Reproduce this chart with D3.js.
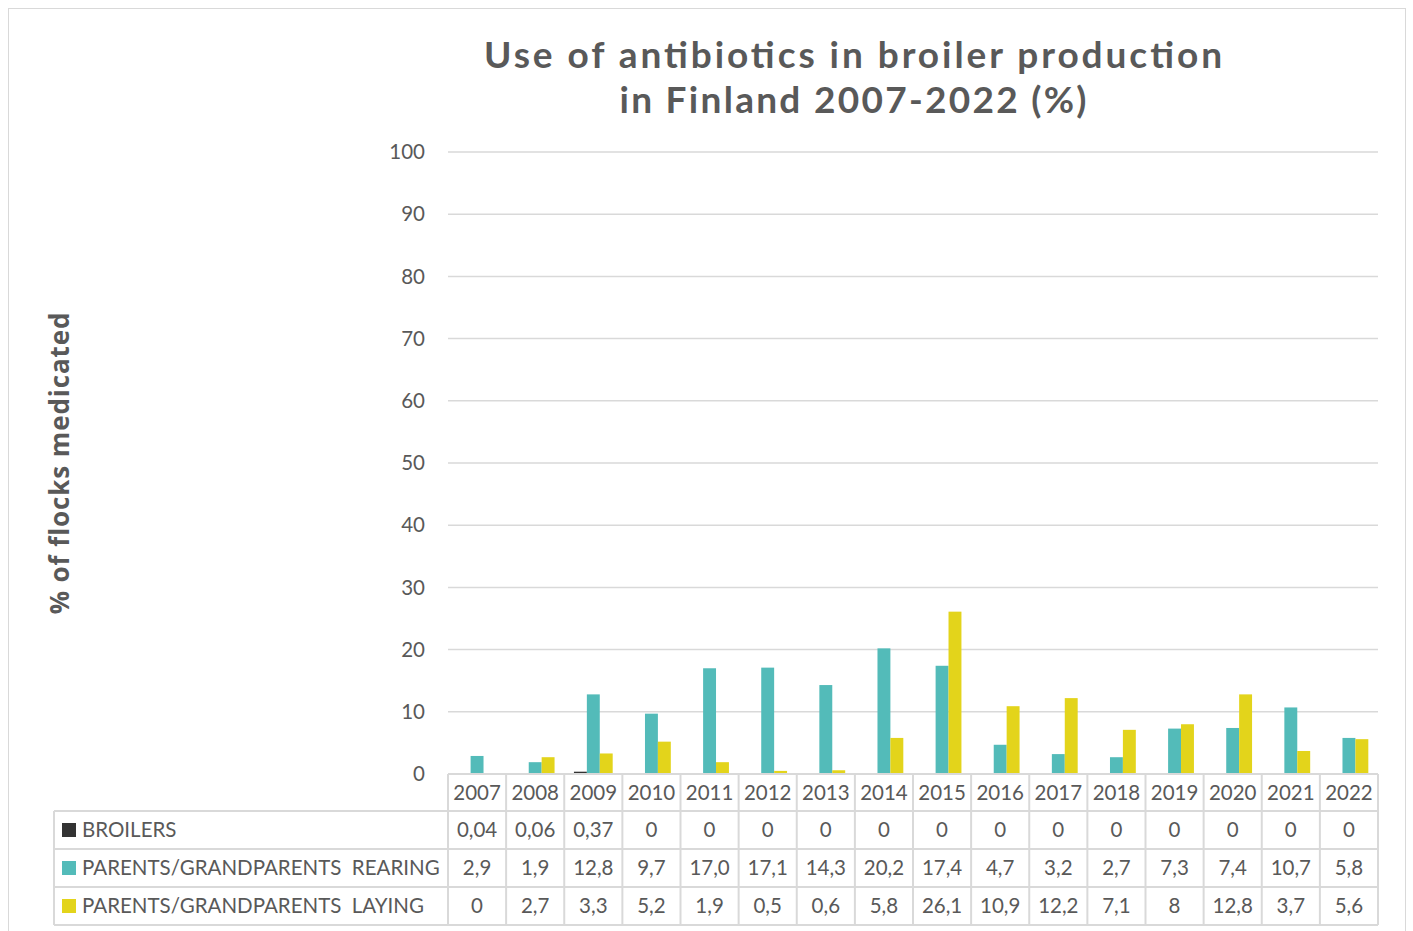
<!DOCTYPE html>
<html><head><meta charset="utf-8">
<script src="https://cdn.jsdelivr.net/npm/d3@7"></script>
<style>body{margin:0;background:#fff;} svg{display:block;}</style>
</head><body>
<script>
const years = ["2007","2008","2009","2010","2011","2012","2013","2014","2015","2016","2017","2018","2019","2020","2021","2022"];
const broilers = [0.04,0.06,0.37,0,0,0,0,0,0,0,0,0,0,0,0,0];
const broilersLabels = ["0,04","0,06","0,37","0","0","0","0","0","0","0","0","0","0","0","0","0"];
const rearing = [2.9,1.9,12.8,9.7,17.0,17.1,14.3,20.2,17.4,4.7,3.2,2.7,7.3,7.4,10.7,5.8];
const rearingLabels = ["2,9","1,9","12,8","9,7","17,0","17,1","14,3","20,2","17,4","4,7","3,2","2,7","7,3","7,4","10,7","5,8"];
const laying = [0,2.7,3.3,5.2,1.9,0.5,0.6,5.8,26.1,10.9,12.2,7.1,8,12.8,3.7,5.6];
const layingLabels = ["0","2,7","3,3","5,2","1,9","0,5","0,6","5,8","26,1","10,9","12,2","7,1","8","12,8","3,7","5,6"];
const seriesNames = ["BROILERS","PARENTS/GRANDPARENTS\u00a0\u00a0REARING","PARENTS/GRANDPARENTS\u00a0\u00a0LAYING"];
const titleLines = ["Use of antibiotics in broiler production","in Finland 2007-2022 (%)"];
const yTicks = [0,10,20,30,40,50,60,70,80,90,100];

(function(){
const W = 1413, H = 931;
const colors = ["#333333","#53BBB9","#E3D41B"];
const textCol = "#595959";
const gridCol = "#d9d9d9";

const svg = d3.select("body").append("svg").attr("width", W).attr("height", H);
svg.append("rect").attr("x",8.5).attr("y",8.5).attr("width",1397).attr("height",940).attr("fill","#fff").attr("stroke","#d9d9d9").attr("stroke-width",1);

const pL = 448, pR = 1378, pT = 152, pB = 774;
const x = d3.scaleBand().domain(years).range([pL, pR]).paddingInner(0).paddingOuter(0);
const y = d3.scaleLinear().domain([0,100]).range([pB, pT]);
const barW = x.bandwidth() / 4.5;
const sub = d3.scaleBand().domain([0,1,2]).range([0, barW*3]);

svg.append("g").selectAll("line").data(yTicks).join("line")
  .attr("x1", pL).attr("x2", pR)
  .attr("y1", d => y(d)).attr("y2", d => y(d))
  .attr("stroke", gridCol).attr("stroke-width", 1.5);

const yAxis = d3.axisLeft(y).tickValues(yTicks).tickSize(0).tickPadding(0);
const ga = svg.append("g").attr("transform", `translate(425,0)`).call(yAxis);
ga.select(".domain").remove();
ga.selectAll("text").attr("font-family","Lato, 'Open Sans', sans-serif").attr("font-size",20.5).attr("fill",textCol).attr("dy","0.33em");

const allSeries = [broilers, rearing, laying];
allSeries.forEach((vals, si) => {
  svg.append("g").selectAll("rect").data(vals).join("rect")
    .attr("x", (d,i) => x(years[i]) + (x.bandwidth() - barW*3)/2 + sub(si))
    .attr("y", d => y(d))
    .attr("width", barW)
    .attr("height", d => pB - y(d))
    .attr("fill", colors[si]);
});

const titleWidths = [738, 467];
svg.append("g").selectAll("text").data(titleLines).join("text")
  .attr("x", (d,i) => 853 - titleWidths[i]/2).attr("y", (d,i) => 68 + i*45)
  .attr("textLength", (d,i) => titleWidths[i]).attr("lengthAdjust","spacing")
  .attr("font-family","Lato, sans-serif").attr("font-weight",700).attr("font-size",37).attr("fill",textCol)
  .text(d => d);

svg.append("text").attr("transform","translate(69,463) rotate(-90)").attr("text-anchor","middle")
  .attr("font-family","'Open Sans', sans-serif").attr("font-weight",700).attr("font-size",26).attr("letter-spacing",0.9).attr("fill",textCol)
  .text("% of flocks medicated");

const tableLeft = 54;
const rowY = [774, 811, 849, 887, 925];
const tg = svg.append("g");
tg.append("line").attr("x1", pL).attr("x2", pR).attr("y1", rowY[0]).attr("y2", rowY[0]).attr("stroke",gridCol).attr("stroke-width",2);
[1,2,3,4].forEach(r => tg.append("line").attr("x1", tableLeft).attr("x2", pR).attr("y1", rowY[r]).attr("y2", rowY[r]).attr("stroke",gridCol).attr("stroke-width",2));
const colEdges = years.map(yv => x(yv)).concat([pR]);
colEdges.forEach(cx => tg.append("line").attr("x1", cx).attr("x2", cx).attr("y1", rowY[0]).attr("y2", rowY[4]).attr("stroke",gridCol).attr("stroke-width",2));
tg.append("line").attr("x1", tableLeft).attr("x2", tableLeft).attr("y1", rowY[1]).attr("y2", rowY[4]).attr("stroke",gridCol).attr("stroke-width",2);

const fontT = "Lato, 'Open Sans', sans-serif";
tg.selectAll("text.yr").data(years).join("text").attr("class","yr")
  .attr("x", d => x(d) + x.bandwidth()/2).attr("y", (rowY[0]+rowY[1])/2).attr("dy","0.35em")
  .attr("text-anchor","middle").attr("font-family",fontT).attr("font-size",20.5).attr("fill",textCol).text(d => d);

const labelSets = [broilersLabels, rearingLabels, layingLabels];
labelSets.forEach((labs, r) => {
  const cy = (rowY[r+1] + rowY[r+2]) / 2;
  tg.append("g").selectAll("text").data(labs).join("text")
    .attr("x", (d,i) => x(years[i]) + x.bandwidth()/2).attr("y", cy).attr("dy","0.35em")
    .attr("text-anchor","middle").attr("font-family",fontT).attr("font-size",20.5).attr("fill",textCol).text(d => d);
  tg.append("rect").attr("x", 62).attr("y", cy - 7).attr("width", 14).attr("height", 14).attr("fill", colors[r]);
  tg.append("text").attr("x", 82).attr("y", cy).attr("dy","0.35em")
    .attr("font-family",fontT).attr("font-size",20.5).attr("fill",textCol).text(seriesNames[r]);
});
})();
</script>
</body></html>
